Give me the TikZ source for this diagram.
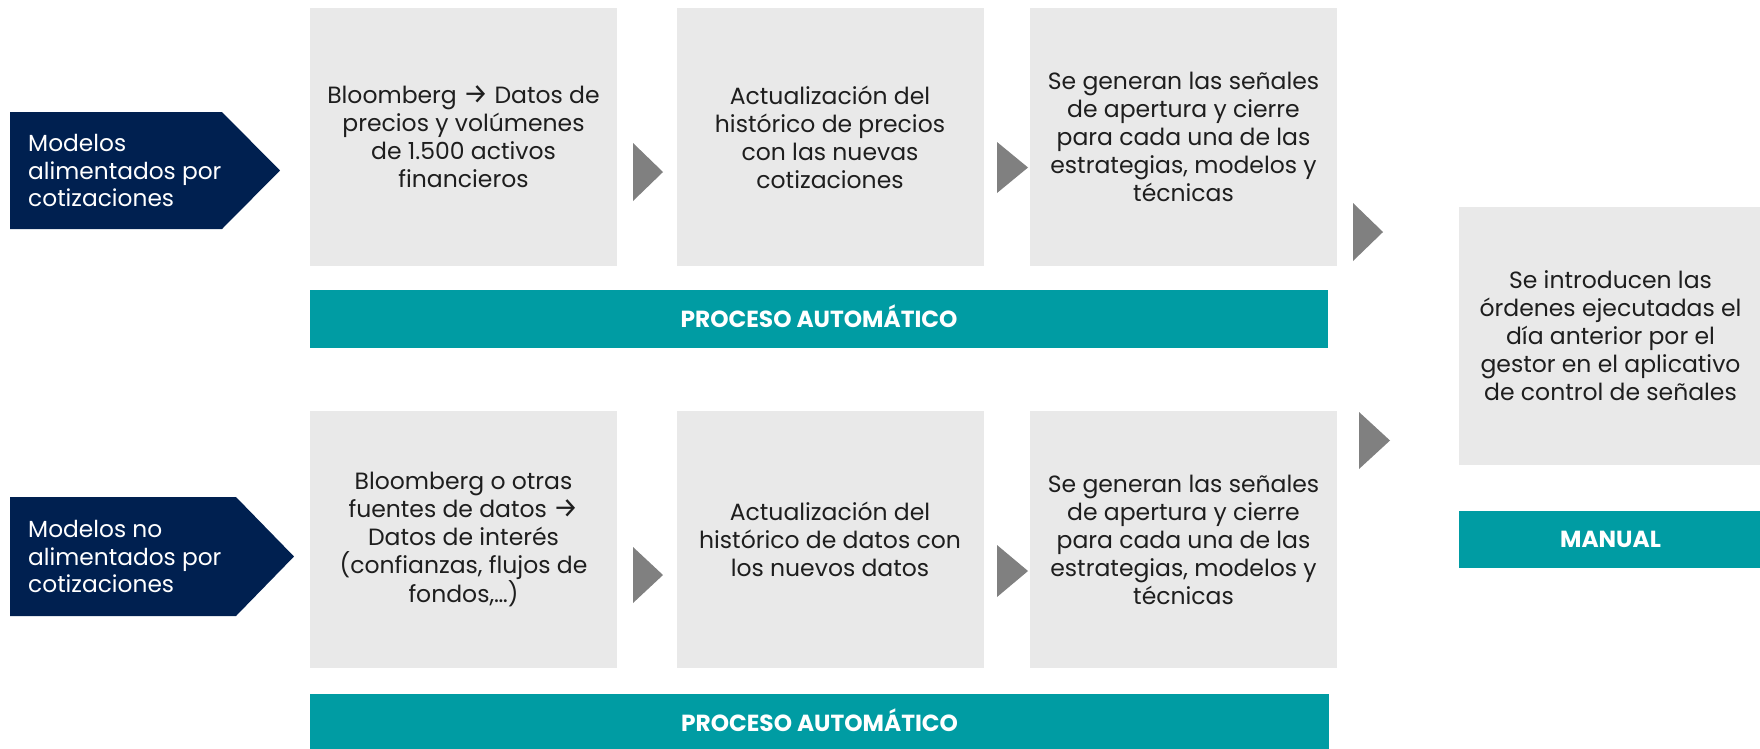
\documentclass[tikz,border=0pt]{standalone}
\usepackage{fontspec}
\setmainfont{Poppins}
\newfontfamily\arrfont{Fira Sans}
\definecolor{navy}{HTML}{002050}
\definecolor{teal}{HTML}{009CA3}
\definecolor{boxgray}{HTML}{E9E9E9}
\definecolor{arrgray}{HTML}{808080}
\definecolor{txt}{HTML}{1E1E1E}
\newcommand{\rarr}{{\arrfont\fontsize{28}{28}\selectfont →}}
\tikzset{
  stepbox/.style={fill=boxgray, text=txt, inner sep=0pt, align=center,
    minimum width=307, minimum height=258, font=\fontsize{23.5}{28}\selectfont},
  barbox/.style={fill=teal, text=white, inner sep=0pt, align=center,
    minimum height=58, text height=16.3pt, text depth=0pt,
    font=\fontsize{23.3}{26}\selectfont\bfseries},
  pentxt/.style={text=white, inner sep=0pt, align=left, anchor=west,
    font=\fontsize{23.3}{27.3}\selectfont},
  tri/.style={fill=arrgray}
}
\begin{document}
\begin{tikzpicture}[x=1pt,y=-1pt]
\useasboundingbox[fill=white] (0,0) rectangle (1760,748);
% pentagons
\fill[navy] (10,112) -- (222,112) -- (280,170.5) -- (222,229) -- (10,229) -- cycle;
\fill[navy] (10,497) -- (236,497) -- (294,556.5) -- (236,616) -- (10,616) -- cycle;
\node[pentxt] (p1) at (28,170.5) {Modelos\\alimentados por\\cotizaciones};
\node[pentxt] (p2) at (28,556.5) {Modelos no\\alimentados por\\cotizaciones};
% row 1
\node[stepbox] (b11) at (463.5,137) {Bloomberg \rarr{} Datos de\\precios y volúmenes\\de 1.500 activos\\financieros};
\node[stepbox] (b12) at (830,137) {Actualización del\\histórico de precios\\con las nuevas\\cotizaciones};
\node[stepbox] (b13) at (1183.5,137) {Se generan las señales\\de apertura y cierre\\para cada una de las\\estrategias, modelos y\\técnicas};
\node[barbox, minimum width=1018] (bar1) at (819,319) {PROCESO AUTOMÁTICO};
% row 2
\node[stepbox, minimum height=257] (b21) at (463.5,539.5) {Bloomberg o otras\\fuentes de datos \rarr\\Datos de interés\\(confianzas, flujos de\\fondos,…)};
\node[stepbox, minimum height=257] (b22) at (830,539.5) {Actualización del\\histórico de datos con\\los nuevos datos};
\node[stepbox, minimum height=257] (b23) at (1183.5,539.5) {Se generan las señales\\de apertura y cierre\\para cada una de las\\estrategias, modelos y\\técnicas};
\node[barbox, minimum width=1019] (bar2) at (819.5,723) {PROCESO AUTOMÁTICO};
% right
\node[stepbox, minimum width=303] (b4) at (1610.5,336) {Se introducen las\\órdenes ejecutadas el\\día anterior por el\\gestor en el aplicativo\\de control de señales};
\node[barbox, minimum width=303, minimum height=57] (man) at (1610.5,539.5) {MANUAL};
% arrows
\fill[tri] (633,143) -- (663,172) -- (633,201) -- cycle;
\fill[tri] (997,142) -- (1028,167.5) -- (997,193) -- cycle;
\fill[tri] (1353,203) -- (1383,232) -- (1353,261) -- cycle;
\fill[tri] (633,547) -- (663,575) -- (633,603) -- cycle;
\fill[tri] (997,545) -- (1028,571) -- (997,597) -- cycle;
\fill[tri] (1359,412) -- (1390,440.5) -- (1359,469) -- cycle;
\end{tikzpicture}
\end{document}
